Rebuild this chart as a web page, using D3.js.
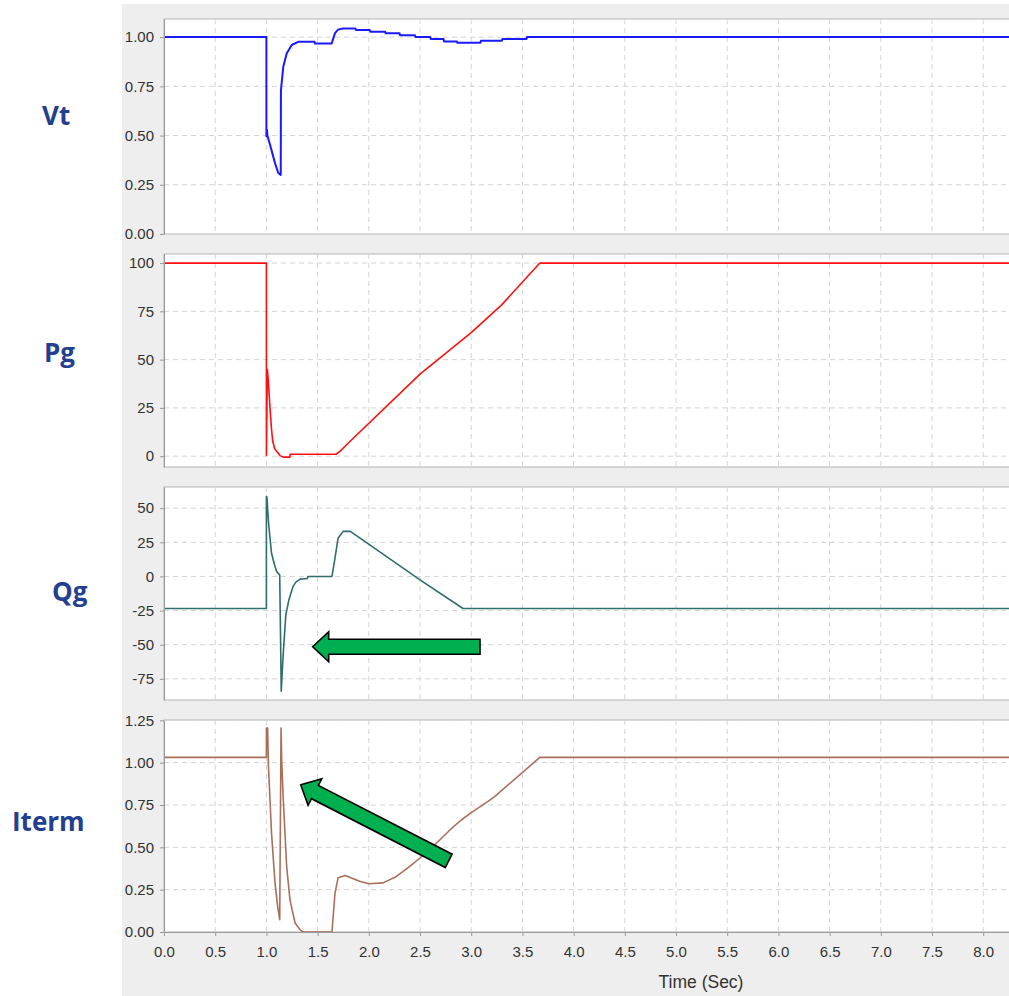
<!DOCTYPE html>
<html>
<head>
<meta charset="utf-8">
<script src="https://cdn.jsdelivr.net/npm/d3@7"></script>
<style>
  body { margin: 0; background: #fff; }
  .axis text { font-family: "Liberation Sans", Arial, sans-serif; font-size: 15px; fill: #333; }
  .axis path, .axis line { stroke: #999; }
  .grid line { stroke: #d4d4d4; stroke-dasharray: 5,4; }
  .etiqueta { font-family: "Open Sans", sans-serif; font-weight: 700; font-size: 26px; fill: #22408f; }
</style>
</head>
<body>
<div id="graf"></div>
<script>

//#######################################
//         datos
//#######################################
const xTicks = [0.0, 0.5, 1.0, 1.5, 2.0, 2.5, 3.0, 3.5, 4.0, 4.5, 5.0, 5.5, 6.0, 6.5, 7.0, 7.5, 8.0]

const vtTicks = [0, 0.25, 0.5, 0.75, 1.0]
const pgTicks = [0, 25, 50, 75, 100]
const qgTicks = [-75, -50, -25, 0, 25, 50]
const itermTicks = [0, 0.25, 0.5, 0.75, 1.0, 1.25]

// [tiempo, valor]
const vtData = [
  [0, 1.0], [1.0, 1.0], [1.0, 0.497], [1.005, 0.53], [1.01, 0.5], [1.05, 0.426], [1.084, 0.36],
  [1.116, 0.31], [1.14, 0.30], [1.142, 0.73], [1.165, 0.85], [1.198, 0.917], [1.247, 0.96],
  [1.31, 0.976], [1.47, 0.976], [1.475, 0.967], [1.637, 0.967], [1.67, 1.02], [1.7, 1.038],
  [1.75, 1.044], [1.87, 1.044], [1.875, 1.036], [2.01, 1.036], [2.015, 1.027], [2.16, 1.027],
  [2.165, 1.019], [2.30, 1.019], [2.305, 1.010], [2.45, 1.010], [2.455, 1.0], [2.60, 1.0],
  [2.605, 0.99], [2.73, 0.99], [2.735, 0.978], [2.86, 0.978], [2.865, 0.971], [3.09, 0.971],
  [3.095, 0.981], [3.30, 0.981], [3.305, 0.991], [3.54, 0.991], [3.545, 1.0], [8.3, 1.0]
]

const pgData = [
  [0, 100], [1.0, 100], [1.0, 0.5], [1.009, 45], [1.02, 38], [1.035, 25], [1.05, 14], [1.061, 8],
  [1.08, 4], [1.10, 2.5], [1.133, 0.3], [1.165, -0.5], [1.23, -0.5], [1.232, 1], [1.68, 1],
  [1.72, 2.6], [1.8, 6.8], [2.5, 42.5], [3.0, 64], [3.3, 78.5], [3.67, 100], [8.3, 100]
]

const qgData = [
  [0, -23.5], [1.0, -23.5], [1.0, 58.6], [1.005, 58], [1.02, 40], [1.05, 17], [1.084, 7.3],
  [1.10, 3.7], [1.13, 1.0], [1.145, -84], [1.16, -62], [1.17, -50], [1.19, -28], [1.22, -17],
  [1.26, -7.3], [1.29, -4], [1.33, -2], [1.40, -1.5], [1.405, 0], [1.64, 0], [1.67, 13.4],
  [1.70, 28], [1.75, 33], [1.82, 33], [2.5, -2.5], [2.92, -23.5], [8.3, -23.5]
]

const itermData = [
  [0, 1.031], [1.0, 1.031], [1.0, 1.205], [1.012, 1.205], [1.02, 0.98], [1.05, 0.585],
  [1.084, 0.29], [1.11, 0.15], [1.13, 0.073], [1.143, 1.205], [1.15, 1.0], [1.165, 0.78],
  [1.198, 0.387], [1.23, 0.19], [1.28, 0.053], [1.33, 0.013], [1.36, 0], [1.64, 0],
  [1.67, 0.23], [1.70, 0.32], [1.77, 0.334], [1.91, 0.30], [2.0, 0.285], [2.14, 0.29],
  [2.27, 0.328], [2.40, 0.387], [2.50, 0.437], [2.60, 0.49], [2.70, 0.548], [2.80, 0.607],
  [2.90, 0.66], [3.0, 0.705], [3.1, 0.745], [3.22, 0.795], [3.67, 1.031], [8.3, 1.031]
]

// flechas verdes: [t, valor] de la cola y de la punta
const flechaQg = { panel: 2, cola: [3.086, -51.5], punta: [1.452, -51.5] }
const flechaIterm = { panel: 3, cola: [2.78, 0.42], punta: [1.335, 0.87] }

//#######################################
//         dimensiones
//#######################################
const anchoTotal = 1009
const altoTotal = 996
const xIzq = 164
const xDer = 1012

const paneles = [
  { nombre: "Vt", datos: vtData, ticks: vtTicks, color: "#1a1aff", dominio: [0, 1.092], top: 19, bottom: 234, fmt: d3.format(".2f"), lx: 42, ly: 125 },
  { nombre: "Pg", datos: pgData, ticks: pgTicks, color: "#ff1010", dominio: [-5.6, 104.7], top: 254, bottom: 467, fmt: d => String(d), lx: 44, ly: 362 },
  { nombre: "Qg", datos: qgData, ticks: qgTicks, color: "#2f6e6c", dominio: [-90.5, 65.5], top: 487, bottom: 700, fmt: d => String(d), lx: 52, ly: 601 },
  { nombre: "Iterm", datos: itermData, ticks: itermTicks, color: "#a8705a", dominio: [0, 1.252], top: 720, bottom: 932, fmt: d3.format(".2f"), lx: 12, ly: 831 }
]

const svg = d3.select("#graf")
  .append("svg")
  .attr("width", anchoTotal)
  .attr("height", altoTotal)

// fondo gris
svg.append("rect")
  .attr("x", 122).attr("y", 4)
  .attr("width", anchoTotal - 122).attr("height", altoTotal - 4)
  .attr("fill", "#eeeeee")

const x = d3.scaleLinear()
  .domain([0, (xDer - xIzq) / 102.4])
  .range([xIzq, xDer])

const linea = (y) => d3.line()
  .x(d => x(d[0]))
  .y(d => y(d[1]))

const escalas = []

paneles.forEach((p, i) => {
  const y = d3.scaleLinear().domain(p.dominio).range([p.bottom, p.top])
  escalas.push(y)

  const g = svg.append("g")

  // area del grafico
  g.append("rect")
    .attr("x", xIzq).attr("y", p.top)
    .attr("width", xDer - xIzq).attr("height", p.bottom - p.top)
    .attr("fill", "#fff")
    .attr("stroke", "#b4b4b4")

  // rejilla
  const grid = g.append("g").classed("grid", true)
  grid.selectAll(".gx")
    .data(xTicks.filter(d => d > 0))
    .enter().append("line")
    .attr("x1", d => x(d)).attr("x2", d => x(d))
    .attr("y1", p.top).attr("y2", p.bottom)
  grid.selectAll(".gy")
    .data(p.ticks.filter(d => y(d) < p.bottom - 1))
    .enter().append("line")
    .attr("x1", xIzq).attr("x2", xDer)
    .attr("y1", d => y(d)).attr("y2", d => y(d))

  // clip
  svg.append("clipPath").attr("id", "clip" + i)
    .append("rect")
    .attr("x", xIzq).attr("y", p.top)
    .attr("width", xDer - xIzq).attr("height", p.bottom - p.top)

  g.append("path")
    .datum(p.datos)
    .attr("clip-path", `url(#clip${i})`)
    .attr("d", linea(y))
    .attr("fill", "none")
    .attr("stroke", p.color)
    .attr("stroke-width", i == 0 ? 2 : 1.6)
    .attr("stroke-linejoin", "round")

  // eje Y
  g.append("g")
    .classed("axis", true)
    .attr("transform", `translate(${xIzq}, 0)`)
    .call(d3.axisLeft(y).tickValues(p.ticks).tickFormat(p.fmt).tickSize(4).tickSizeOuter(0).tickPadding(6))

  // etiqueta a la izquierda
  svg.append("text")
    .attr("x", p.lx).attr("y", p.ly)
    .classed("etiqueta", true)
    .text(p.nombre)
})

// eje X (solo abajo)
const ultimo = paneles[paneles.length - 1]
svg.append("g")
  .classed("axis", true)
  .attr("transform", `translate(0, ${ultimo.bottom})`)
  .call(d3.axisBottom(x).tickValues(xTicks).tickFormat(d3.format(".1f")).tickSize(4).tickSizeOuter(0).tickPadding(10))

svg.append("text")
  .attr("x", 701).attr("y", 988)
  .attr("text-anchor", "middle")
  .style("font-family", "'Liberation Sans', Arial, sans-serif")
  .style("font-size", "17.5px")
  .style("fill", "#333")
  .text("Time (Sec)")

//#######################################
//         flechas
//#######################################
const dibujarFlecha = (f) => {
  const y = escalas[f.panel]
  const x0 = x(f.cola[0]), y0 = y(f.cola[1])
  const x1 = x(f.punta[0]), y1 = y(f.punta[1])
  const largo = Math.hypot(x1 - x0, y1 - y0)
  const ang = Math.atan2(y1 - y0, x1 - x0) * 180 / Math.PI
  const cuerpo = 7.5, cabeza = 15, lc = 16
  const pts = [
    [0, -cuerpo], [largo - lc, -cuerpo], [largo - lc, -cabeza], [largo, 0],
    [largo - lc, cabeza], [largo - lc, cuerpo], [0, cuerpo]
  ]
  svg.append("polygon")
    .attr("points", pts.map(d => d.join(",")).join(" "))
    .attr("transform", `translate(${x0}, ${y0}) rotate(${ang})`)
    .attr("fill", "#00b050")
    .attr("stroke", "#000")
    .attr("stroke-width", 1.6)
    .attr("stroke-linejoin", "miter")
}

dibujarFlecha(flechaQg)
dibujarFlecha(flechaIterm)

</script>
</body>
</html>
